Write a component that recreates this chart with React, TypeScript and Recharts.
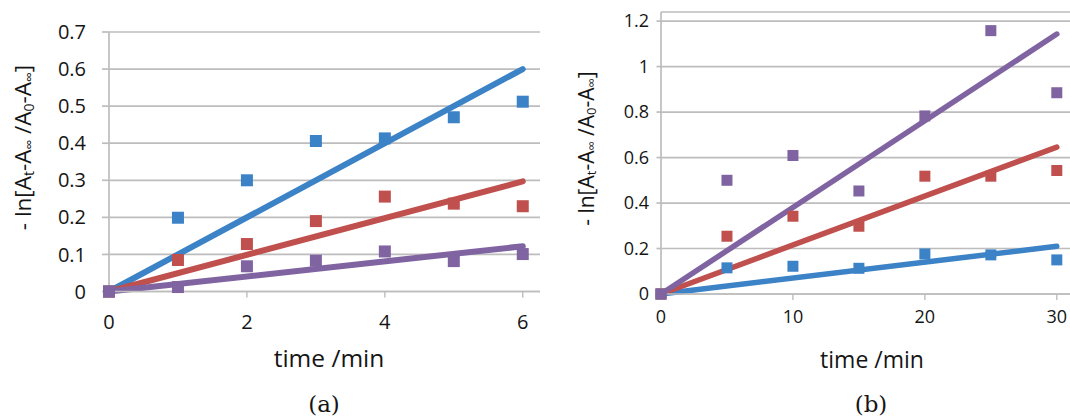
import React from "react";
import {
  ComposedChart,
  Line,
  Scatter,
  XAxis,
  YAxis,
  CartesianGrid,
  Label,
} from "recharts";

// ---------- panel (a) data ----------
const aTime = [0, 1, 2, 3, 4, 5, 6];
const aBlue = [0, 0.199, 0.3, 0.406, 0.413, 0.47, 0.512];
const aRed = [0, 0.085, 0.128, 0.19, 0.256, 0.237, 0.23];
const aPurple = [0, 0.012, 0.068, 0.083, 0.108, 0.082, 0.101];
const aFitTime = [0, 6];
const aBlueFit = [0, 0.6];
const aRedFit = [0, 0.297];
const aPurpleFit = [0, 0.122];
const aXTicks = [0, 2, 4, 6];
const aYTicks = [0, 0.1, 0.2, 0.3, 0.4, 0.5, 0.6, 0.7];

// ---------- panel (b) data ----------
const bTime = [0, 5, 10, 15, 20, 25, 30];
const bBlue = [0, 0.115, 0.122, 0.113, 0.176, 0.172, 0.15];
const bRed = [0, 0.254, 0.342, 0.298, 0.518, 0.518, 0.543];
const bPurple = [0, 0.5, 0.609, 0.453, 0.783, 1.158, 0.885];
const bFitTime = [0, 30];
const bBlueFit = [0, 0.21];
const bRedFit = [0, 0.646];
const bPurpleFit = [0, 1.143];
const bXTicks = [0, 10, 20, 30];
const bYTicks = [0, 0.2, 0.4, 0.6, 0.8, 1, 1.2];

const xTitle = "time /min";
const captions = ["(a)", "(b)"];

const BLUE = "#3C82C6";
const RED = "#C0504D";
const PURPLE = "#8064A2";
const GRID = "#BDBDBD";
const TEXT = "#151515";
const FONT = "'Open Sans', sans-serif";

const toPts = (xs: number[], ys: number[]) => xs.map((x, i) => ({ x, y: ys[i] }));

type PanelProps = {
  width: number;
  height: number;
  top: number;
  xAxisHeight: number;
  yAxisWidth: number;
  xDomain: [number, number];
  yDomain: [number, number];
  xTicks: number[];
  yTicks: number[];
  xs: number[];
  fitXs: number[];
  series: { color: string; values: number[]; fit: number[] }[];
  marker: number;
  lineWidth: number;
  tickFont: number;
  yTickSize: number;
  yTickMargin: number;
  xTickMargin: number;
  yLabelX: number;
  yLabelY: number;
  yLabelSize: number;
  xLabelSize: number;
  xLabelDx: number;
  xLabelDy: number;
};

const squareShape = (size: number, color: string) => (props: any) => {
  const { cx, cy } = props;
  if (cx == null || cy == null) return <g />;
  return <rect x={cx - size / 2} y={cy - size / 2} width={size} height={size} fill={color} />;
};

const yLabelContent = (cx: number, cy: number, fs: number) => () => {
  const sub = fs * 0.62;
  const sh = fs * 0.28;
  return (
    <text
      x={cx}
      y={cy}
      transform={`rotate(-90 ${cx} ${cy})`}
      textAnchor="middle"
      dominantBaseline="central"
      fontFamily={FONT}
      fontSize={fs}
      fill={TEXT}
    >
      <tspan>- ln[A</tspan>
      <tspan dy={sh} fontSize={sub}>t</tspan>
      <tspan dy={-sh}>-A</tspan>
      <tspan dy={sh} fontSize={sub}>∞</tspan>
      <tspan dy={-sh}> /A</tspan>
      <tspan dy={sh} fontSize={sub}>0</tspan>
      <tspan dy={-sh}>-A</tspan>
      <tspan dy={sh} fontSize={sub}>∞</tspan>
      <tspan dy={-sh}>]</tspan>
    </text>
  );
};

const xLabelContent = (dx: number, dy: number, fs: number) => (props: any) => {
  const vb = props.viewBox || {};
  const x = (vb.x ?? 0) + (vb.width ?? 0) / 2 + dx;
  const y = (vb.y ?? 0) + dy;
  return (
    <text x={x} y={y} textAnchor="middle" fontFamily={FONT} fontSize={fs} fill={TEXT}>
      {xTitle}
    </text>
  );
};

const tickRenderer = (fs: number, anchor: "middle" | "end", dyEm: number) => (props: any) => {
  const { x, y, payload } = props;
  return (
    <text
      x={x}
      y={y}
      dy={`${dyEm}em`}
      textAnchor={anchor}
      fontFamily={FONT}
      fontSize={fs}
      fill={TEXT}
    >
      {String(payload.value)}
    </text>
  );
};

function Panel(p: PanelProps) {
  return (
    <ComposedChart
      width={p.width}
      height={p.height}
      margin={{ top: p.top, right: 0, bottom: 0, left: 0 }}
    >
      <CartesianGrid vertical={false} stroke={GRID} strokeWidth={1.7} />
      <XAxis
        type="number"
        dataKey="x"
        domain={p.xDomain}
        ticks={p.xTicks}
        height={p.xAxisHeight}
        tick={tickRenderer(p.tickFont, "middle", 0.71)}
        tickSize={6}
        tickMargin={p.xTickMargin}
        axisLine={{ stroke: GRID, strokeWidth: 1.7 }}
        tickLine={{ stroke: GRID, strokeWidth: 1.4 }}
      >
        <Label content={xLabelContent(p.xLabelDx, p.xLabelDy, p.xLabelSize)} />
      </XAxis>
      <YAxis
        type="number"
        dataKey="y"
        domain={p.yDomain}
        ticks={p.yTicks}
        width={p.yAxisWidth}
        tick={tickRenderer(p.tickFont, "end", 0.355)}
        tickSize={p.yTickSize}
        tickMargin={p.yTickMargin}
        axisLine={{ stroke: GRID, strokeWidth: 1.7 }}
        tickLine={{ stroke: GRID, strokeWidth: 1.7 }}
      >
        <Label content={yLabelContent(p.yLabelX, p.yLabelY, p.yLabelSize)} />
      </YAxis>
      {p.series.map((s, i) => (
        <Line
          key={"fit" + i}
          data={toPts(p.fitXs, s.fit)}
          dataKey="y"
          stroke={s.color}
          strokeWidth={p.lineWidth}
          strokeLinecap="round"
          dot={false}
          activeDot={false}
          isAnimationActive={false}
        />
      ))}
      {p.series.map((s, i) => (
        <Scatter
          key={"pts" + i}
          data={toPts(p.xs, s.values)}
          dataKey="y"
          fill={s.color}
          shape={squareShape(p.marker, s.color)}
          isAnimationActive={false}
        />
      ))}
    </ComposedChart>
  );
}

export default function App() {
  return (
    <div
      style={{
        position: "absolute",
        left: 0,
        top: 0,
        width: 1070,
        height: 417,
        overflow: "hidden",
        background: "#fff",
      }}
    >
      <div style={{ position: "absolute", left: 0, top: 0 }}>
        <Panel
          width={540}
          height={417}
          top={32}
          xAxisHeight={125.5}
          yAxisWidth={109}
          xDomain={[0, 6.25]}
          yDomain={[0, 0.7]}
          xTicks={aXTicks}
          yTicks={aYTicks}
          xs={aTime}
          fitXs={aFitTime}
          series={[
            { color: BLUE, values: aBlue, fit: aBlueFit },
            { color: RED, values: aRed, fit: aRedFit },
            { color: PURPLE, values: aPurple, fit: aPurpleFit },
          ]}
          marker={12}
          lineWidth={6}
          tickFont={20}
          yTickSize={7}
          yTickMargin={16}
          xTickMargin={17}
          yLabelX={22}
          yLabelY={147.5}
          yLabelSize={22.5}
          xLabelSize={24.5}
          xLabelDx={4.5}
          xLabelDy={75}
        />
      </div>
      <div style={{ position: "absolute", left: 540, top: 0 }}>
        <Panel
          width={530}
          height={417}
          top={12}
          xAxisHeight={123}
          yAxisWidth={121}
          xDomain={[0, 31]}
          yDomain={[0, 1.24]}
          xTicks={bXTicks}
          yTicks={bYTicks}
          xs={bTime}
          fitXs={bFitTime}
          series={[
            { color: BLUE, values: bBlue, fit: bBlueFit },
            { color: RED, values: bRed, fit: bRedFit },
            { color: PURPLE, values: bPurple, fit: bPurpleFit },
          ]}
          marker={11}
          lineWidth={5.5}
          tickFont={18}
          yTickSize={4.5}
          yTickMargin={7.5}
          xTickMargin={10.5}
          yLabelX={45.6}
          yLabelY={148.6}
          yLabelSize={21}
          xLabelSize={23}
          xLabelDx={6.5}
          xLabelDy={73.5}
        />
      </div>
      <svg
        width={1070}
        height={417}
        style={{ position: "absolute", left: 0, top: 0, pointerEvents: "none" }}
      >
        <text x={324} y={411.5} textAnchor="middle" fontFamily="'DejaVu Serif', serif" fontSize={23} fill={TEXT}>
          {captions[0]}
        </text>
        <text x={871} y={411.5} textAnchor="middle" fontFamily="'DejaVu Serif', serif" fontSize={23} fill={TEXT}>
          {captions[1]}
        </text>
      </svg>
    </div>
  );
}
